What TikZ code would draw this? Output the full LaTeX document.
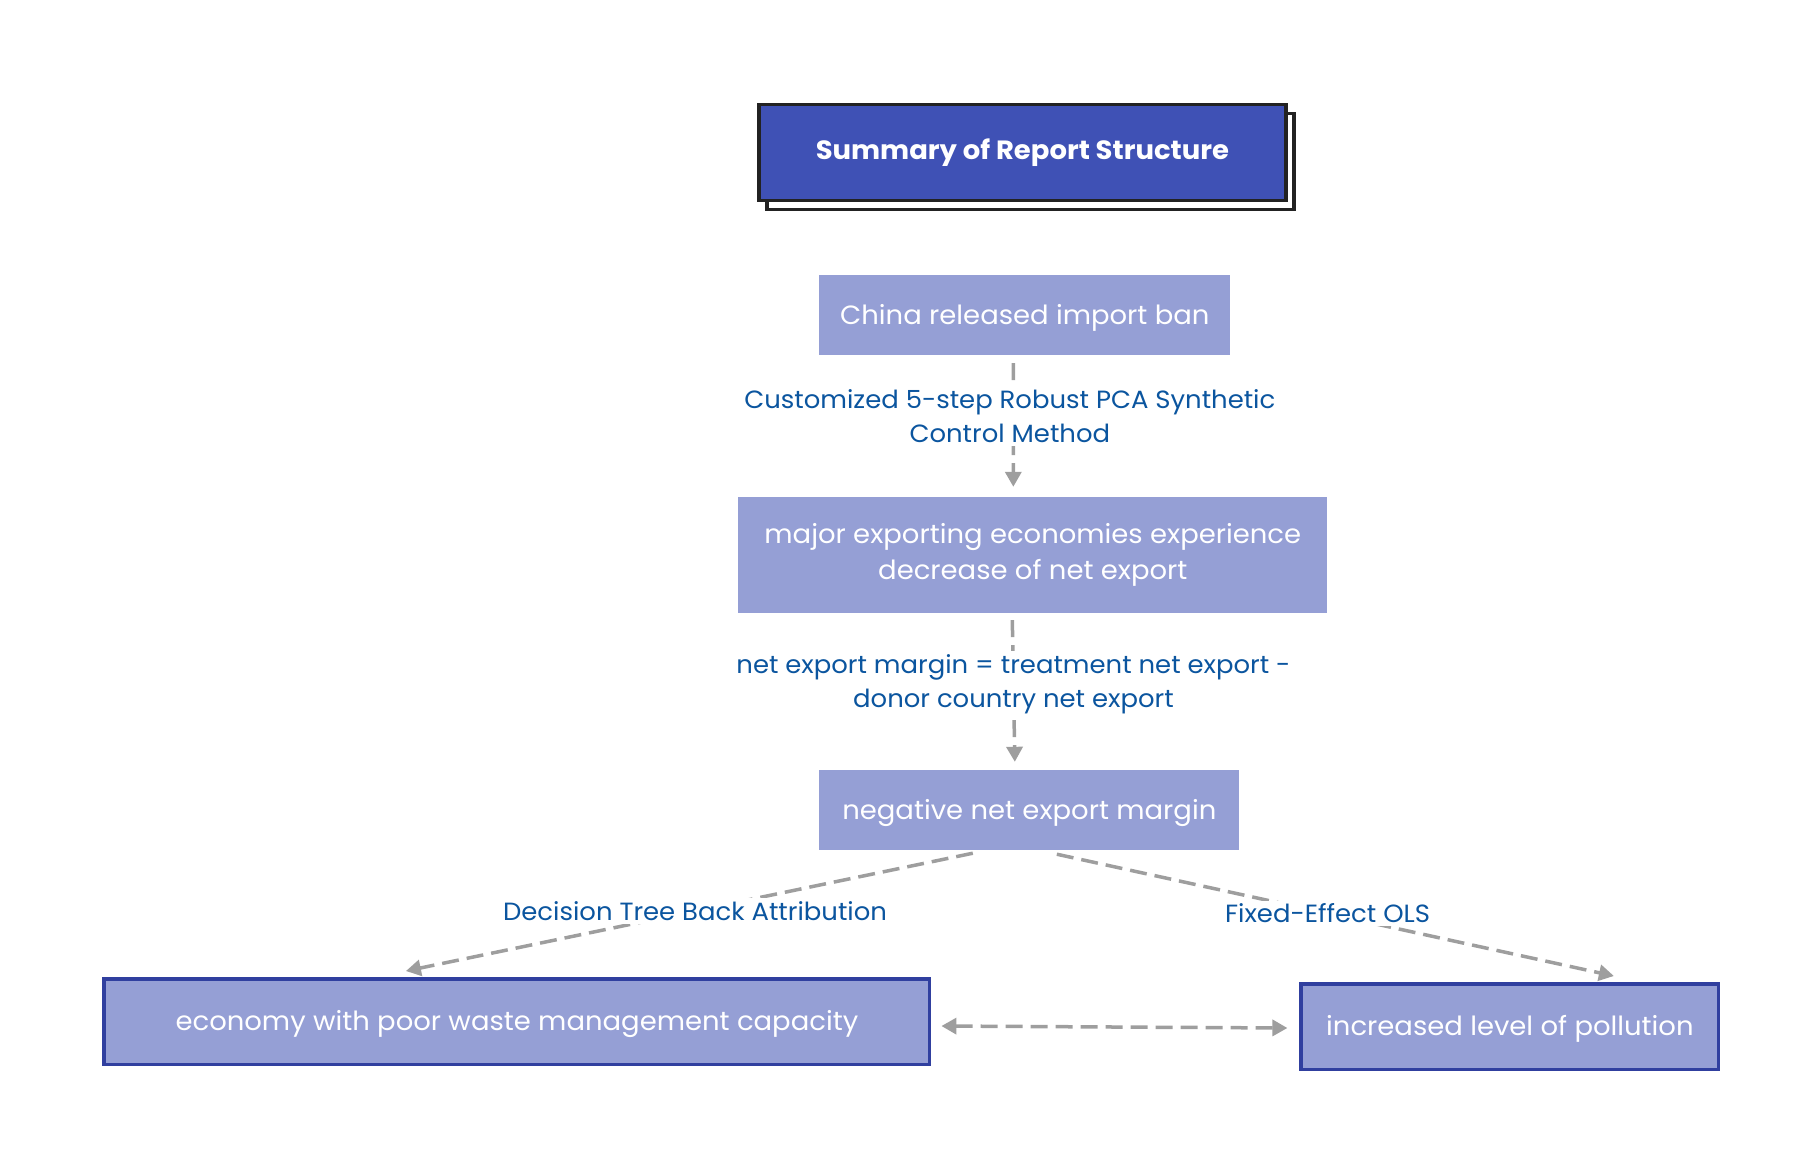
\documentclass[tikz,border=0pt]{standalone}
\usepackage{fontspec}
\setmainfont{Poppins}[FakeStretch=1.04]
\usetikzlibrary{arrows.meta,shadows}
\definecolor{titleblue}{HTML}{3F51B5}
\definecolor{boxfill}{HTML}{959FD5}
\definecolor{boxedge}{HTML}{303F9F}
\definecolor{lblblue}{HTML}{0B559F}
\definecolor{conngray}{HTML}{9E9E9E}
\definecolor{darkedge}{HTML}{222222}
\begin{document}
\begin{tikzpicture}[x=0.995bp,y=-1bp,
  titlebox/.style={rectangle, fill=titleblue, draw=darkedge, line width=3.5bp,
    text=white, font=\fontsize{26.5}{30}\selectfont\bfseries,
    copy shadow={shadow xshift=8bp, shadow yshift=-9bp, fill=white, draw=darkedge, line width=3.5bp, opacity=1},
    inner sep=0pt},
  plainbox/.style={rectangle, fill=boxfill, text=white, inner sep=0pt,
    font=\fontsize{26.5}{36}\selectfont, align=center},
  onebox/.style={plainbox, text height=25bp, text depth=7bp},
  edgebox/.style={onebox, draw=boxedge, line width=3.5bp},
  lbl/.style={fill=white, text=lblblue, inner sep=3bp, align=center,
    font=\fontsize{25}{34}\selectfont},
  conn/.style={draw=conngray, line width=3.5bp, dash pattern=on 17bp off 8bp,
    -{Triangle[length=15bp,width=16bp]}},
  dconn/.style={conn, {Triangle[length=15bp,width=16bp]}-{Triangle[length=15bp,width=16bp]}}
]
\useasboundingbox (0,0) rectangle (1829.15,1170);

\node[titlebox, minimum width=527bp, minimum height=96bp] (title) at (1027.5,152.5) {Summary of Report Structure};

\node[onebox, minimum width=411bp, minimum height=80bp] (n1) at (1030,315) {China released import ban};
\node[plainbox, minimum width=589bp, minimum height=116bp] (n2) at (1038,555) {major exporting economies experience\\decrease of net export};
\node[onebox, minimum width=420bp, minimum height=80bp] (n3) at (1034.5,810) {negative net export margin};
\node[edgebox, minimum width=825.5bp, minimum height=85.5bp] (n4) at (519.5,1021.5) {economy with poor waste management capacity};
\node[edgebox, minimum width=417.5bp, minimum height=85.5bp] (n5) at (1517.5,1026.5) {increased level of pollution};

\draw[conn] ([xshift=-11.5bp,yshift=-8bp]n1.south) -- node[lbl, pos=0.43, xshift=-3.5bp] (l1) {Customized 5-step Robust PCA Synthetic\\Control Method} ([xshift=-19.5bp,yshift=10bp]n2.north);
\draw[conn] ([xshift=-20.5bp,yshift=-7bp]n2.south) -- node[lbl, pos=0.45] (l2) {net export margin = treatment net export -\\donor country net export} ([xshift=-14.5bp,yshift=8bp]n3.north);
\draw[conn] ([xshift=-56.5bp,yshift=-3bp]n3.south) -- node[lbl, pos=0.49] (l3) {Decision Tree Back Attribution} ([xshift=-111bp,yshift=6bp]n4.north);
\draw[conn] ([xshift=27.5bp,yshift=-4bp]n3.south) -- node[lbl, pos=0.486] (l4) {Fixed-Effect OLS} ([xshift=104bp,yshift=6bp]n5.north);
\draw[dconn] ([xshift=10bp,yshift=-4.5bp]n4.east) -- ([xshift=-12bp,yshift=-1.5bp]n5.west);
\end{tikzpicture}
\end{document}
